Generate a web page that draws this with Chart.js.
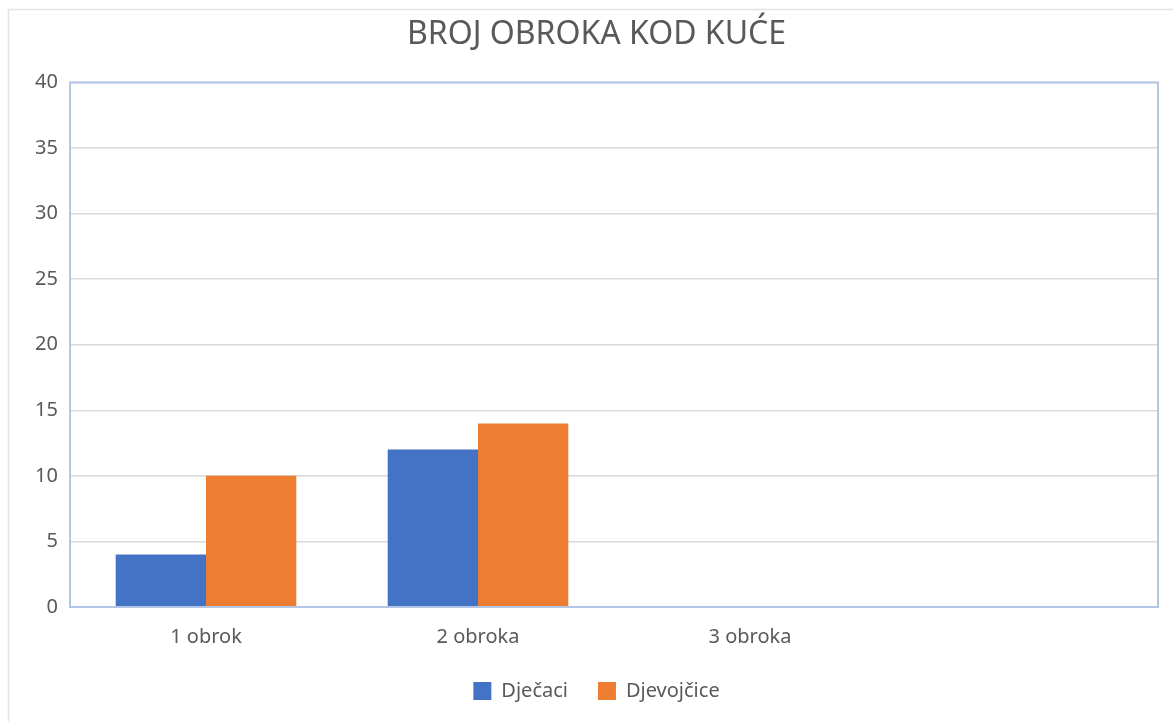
<!DOCTYPE html>
<html>
<head>
<meta charset="utf-8">
<script src="https://cdn.jsdelivr.net/npm/chart.js@4"></script>
<style>
  html, body { margin: 0; padding: 0; background: #fff; }
  #wrap { width: 1173px; height: 721px; position: relative; }
</style>
</head>
<body>
<div id="wrap"><canvas id="myChart"></canvas></div>
<script>
var categories = ['1 obrok', '2 obroka', '3 obroka', ''];
var djecaci = [4, 12, 0, null];
var djevojcice = [10, 14, 0, null];
var yTicks = [0, 5, 10, 15, 20, 25, 30, 35, 40];

// frame around the whole chart and the blue box round the plot
var frames = {
    id: 'frames',
    beforeDraw: function(chart) {
        var ctx = chart.ctx;
        ctx.save();
        ctx.strokeStyle = '#e3e3e3';
        ctx.lineWidth = 1.5;
        ctx.strokeRect(8.5, 9.5, chart.width + 10, chart.height + 10);
        ctx.restore();
    },
    afterDatasetsDraw: function(chart) {
        var a = chart.chartArea;
        var ctx = chart.ctx;
        ctx.save();
        ctx.strokeStyle = '#b4c6e7';
        ctx.lineWidth = 2;
        ctx.strokeRect(a.left, a.top, a.right - a.left, a.bottom - a.top);
        ctx.restore();
    }
};

document.addEventListener('DOMContentLoaded', function() {
    var font = "'Noto Sans', 'Open Sans', sans-serif";
    new Chart(document.getElementById('myChart'), {
        type: 'bar',
        data: {
            labels: categories,
            datasets: [
                { label: 'Dječaci', data: djecaci, backgroundColor: '#4472c4' },
                { label: 'Djevojčice', data: djevojcice, backgroundColor: '#ed7d31' }
            ]
        },
        options: {
            responsive: true,
            maintainAspectRatio: false,
            animation: false,
            layout: { padding: { left: 35, right: 15, top: 10, bottom: 10 } },
            datasets: { bar: { categoryPercentage: 0.664, barPercentage: 1.0 } },
            plugins: {
                title: {
                    display: true,
                    text: 'BROJ OBROKA KOD KUĆE',
                    color: '#595959',
                    font: { family: font, size: 32, weight: 'normal' },
                    padding: { top: 6, bottom: 28 }
                },
                legend: {
                    position: 'bottom',
                    labels: {
                        color: '#595959',
                        font: { family: font, size: 20 },
                        boxWidth: 18, boxHeight: 18,
                        padding: 30
                    }
                },
                tooltip: { enabled: false }
            },
            scales: {
                x: {
                    grid: { display: false },
                    border: { display: false },
                    ticks: { color: '#595959', font: { family: font, size: 20 }, padding: 10 },
                    afterFit: function(s) { s.height = 44; }
                },
                y: {
                    min: 0, max: 40,
                    afterBuildTicks: function(s) { s.ticks = yTicks.map(function(v) { return { value: v }; }); },
                    grid: { color: '#d9d9d9', lineWidth: 1.5, drawTicks: false },
                    border: { display: false },
                    ticks: { color: '#595959', font: { family: font, size: 20 }, padding: 12 },
                    afterFit: function(s) { s.width = 35; }
                }
            }
        },
        plugins: [frames]
    });
});
</script>
</body>
</html>
